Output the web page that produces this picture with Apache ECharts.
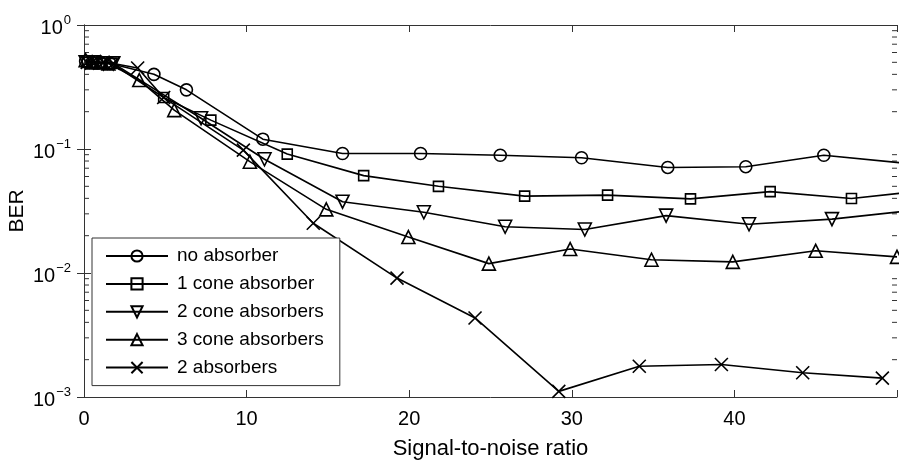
<!DOCTYPE html>
<html>
<head>
<meta charset="utf-8">
<script src="https://cdn.jsdelivr.net/npm/echarts@6/dist/echarts.min.js"></script>
<style>
  html, body { margin: 0; padding: 0; background: #fff; }
  #berChart { width: 899px; height: 462px; }
</style>
</head>
<body>
<div id="berChart"></div>
<script>
// values (SNR on x, BER on log y)
const noAbsSnr = [0.1, 0.5, 1.0, 1.6, 4.3, 6.3, 11.0, 15.9, 20.7, 25.6, 30.6, 35.9, 40.7, 45.5, 50.4];
const noAbsBer = [0.51, 0.5, 0.5, 0.49, 0.40, 0.30, 0.12, 0.092, 0.092, 0.089, 0.085, 0.071, 0.072, 0.089, 0.077];

const cone1Snr = [0.2, 0.6, 1.1, 1.7, 4.9, 7.8, 12.5, 17.2, 21.8, 27.1, 32.2, 37.3, 42.2, 47.2, 52.2];
const cone1Ber = [0.5, 0.5, 0.49, 0.49, 0.26, 0.171, 0.091, 0.061, 0.050, 0.0417, 0.0425, 0.0396, 0.0453, 0.0399, 0.047];

const cone2Snr = [0.1, 0.6, 1.2, 1.8, 7.2, 11.1, 15.9, 20.9, 25.9, 30.8, 35.8, 40.9, 46.0, 51.0];
const cone2Ber = [0.5, 0.5, 0.49, 0.49, 0.177, 0.0826, 0.0376, 0.0309, 0.0236, 0.0224, 0.029, 0.0247, 0.0272, 0.032];

const cone3Snr = [0.1, 0.5, 1.0, 1.5, 3.4, 5.55, 10.2, 14.9, 19.95, 24.9, 29.9, 34.9, 39.9, 45.0, 50.0];
const cone3Ber = [0.52, 0.5, 0.5, 0.49, 0.36, 0.206, 0.079, 0.0326, 0.0195, 0.0119, 0.0156, 0.0128, 0.0123, 0.0151, 0.0135];

const absSnr = [0.2, 0.7, 1.2, 1.8, 3.3, 4.9, 9.8, 14.1, 19.25, 24.05, 29.2, 34.15, 39.2, 44.2, 49.1];
const absBer = [0.5, 0.5, 0.5, 0.49, 0.45, 0.26, 0.098, 0.0252, 0.0091, 0.00434, 0.00111, 0.00177, 0.00183, 0.00157, 0.00142];

const seriesNames = ["no absorber", "1 cone absorber", "2 cone absorbers", "3 cone absorbers", "2 absorbers"];
const xTicks = [0, 10, 20, 30, 40, 50];
const yDecades = [0.001, 0.01, 0.1, 1];

const font = "'Liberation Sans', Arial, Helvetica, sans-serif";
const axisColor = "#333";

let chart = echarts.init(document.getElementById("berChart"));

const pairs = (xs, ys) => xs.map((x, i) => [x, ys[i]]);

const commonSeries = (name, data, symbol, size) => ({
  name,
  type: "line",
  data,
  symbol,
  symbolSize: size,
  clip: true,
  showAllSymbol: true,
  lineStyle: { color: "#000", width: 1.6 },
  itemStyle: { color: "rgba(0,0,0,0)", borderColor: "#000", borderWidth: 1.6 },
  emphasis: { disabled: true },
  z: 3,
});

const supFmt = (v) => {
  const e = Math.round(Math.log10(v));
  return "10{sup|" + (e < 0 ? "\u2212" + (-e) : e) + "}";
};

let option = {
  animation: false,
  textStyle: { fontFamily: font },
  grid: { left: 84, right: 2, top: 25, bottom: 65, containLabel: false, outerBoundsMode: "none" },
  legend: {
    orient: "vertical",
    left: 92,
    top: 238,
    padding: [8, 16, 8, 13],
    itemWidth: 62,
    itemHeight: 14,
    itemGap: 7.9,
    backgroundColor: "#fff",
    borderColor: axisColor,
    borderWidth: 1,
    borderRadius: 0,
    textStyle: { fontSize: 19, fontFamily: font, color: "#000", lineHeight: 20, padding: [0, 0, 0, 4] },
    data: seriesNames,
    z: 10,
  },
  xAxis: [
    {
      type: "value",
      min: xTicks[0],
      max: xTicks[xTicks.length - 1],
      interval: 10,
      name: "Signal-to-noise ratio",
      nameLocation: "middle",
      nameGap: 41,
      nameMoveOverlap: false,
      nameTextStyle: { fontSize: 22, color: "#000", fontFamily: font },
      axisLine: { show: true, lineStyle: { color: axisColor, width: 1 } },
      axisTick: { inside: true, length: 7, lineStyle: { color: axisColor } },
      axisLabel: {
        fontSize: 20, color: "#000", margin: 12, fontFamily: font,
        formatter: (v) => (v === 50 ? "" : String(v)),
      },
      splitLine: { show: false },
    },
    {
      type: "value",
      position: "top",
      min: xTicks[0],
      max: xTicks[xTicks.length - 1],
      interval: 10,
      axisLine: { show: true, lineStyle: { color: axisColor, width: 1 } },
      axisTick: { inside: true, length: 7, lineStyle: { color: axisColor } },
      axisLabel: { show: false },
      splitLine: { show: false },
    },
  ],
  yAxis: [
    {
      type: "log",
      logBase: 10,
      min: yDecades[0],
      max: yDecades[yDecades.length - 1],
      splitNumber: 3,
      name: "BER",
      nameLocation: "middle",
      nameGap: 56,
      nameMoveOverlap: false,
      nameTextStyle: { fontSize: 21, color: "#000", fontFamily: font },
      axisLine: { show: true, lineStyle: { color: axisColor, width: 1 } },
      axisTick: { inside: true, length: 7, lineStyle: { color: axisColor } },
      axisLabel: {
        margin: 13,
        color: "#000",
        padding: [6, 0, 0, 0],
        formatter: supFmt,
        rich: {
          sup: { fontSize: 13, fontFamily: font, color: "#000", padding: [0, 0, 15, 1] },
        },
        fontSize: 20,
        fontFamily: font,
      },
      splitLine: { show: false },
    },
    {
      type: "log",
      logBase: 10,
      position: "right",
      min: yDecades[0],
      max: yDecades[yDecades.length - 1],
      splitNumber: 3,
      axisLine: { show: true, lineStyle: { color: axisColor, width: 1 } },
      axisTick: { inside: true, length: 7, lineStyle: { color: axisColor } },
      axisLabel: { show: false },
      splitLine: { show: false },
    },
  ],
  series: [
    commonSeries(seriesNames[0], pairs(noAbsSnr, noAbsBer), "circle", 12),
    commonSeries(seriesNames[1], pairs(cone1Snr, cone1Ber), "rect", 10),
    commonSeries(seriesNames[2], pairs(cone2Snr, cone2Ber), "path://M0,0L10,0L5,8.66Z", 13),
    commonSeries(seriesNames[3], pairs(cone3Snr, cone3Ber), "triangle", 13),
    commonSeries(seriesNames[4], pairs(absSnr, absBer), "path://M0,0L10,10M0,10L10,0", 13),
  ],
};

option && chart.setOption(option);

// minor log ticks (2..9 per decade) on left and right edges, placed with the axis scale
const xl = chart.convertToPixel({ xAxisIndex: 0 }, xTicks[0]);
const xr = chart.convertToPixel({ xAxisIndex: 0 }, xTicks[xTicks.length - 1]);
const minor = [];
for (let d = 0; d < yDecades.length - 1; d++) {
  for (let m = 2; m <= 9; m++) {
    const py = chart.convertToPixel({ yAxisIndex: 0 }, yDecades[d] * m);
    minor.push({ type: "line", shape: { x1: xl, y1: py, x2: xl + 5, y2: py }, style: { stroke: axisColor, lineWidth: 1 }, silent: true });
    minor.push({ type: "line", shape: { x1: xr - 5, y1: py, x2: xr, y2: py }, style: { stroke: axisColor, lineWidth: 1 }, silent: true });
  }
}
chart.setOption({ graphic: minor });
</script>
</body>
</html>
